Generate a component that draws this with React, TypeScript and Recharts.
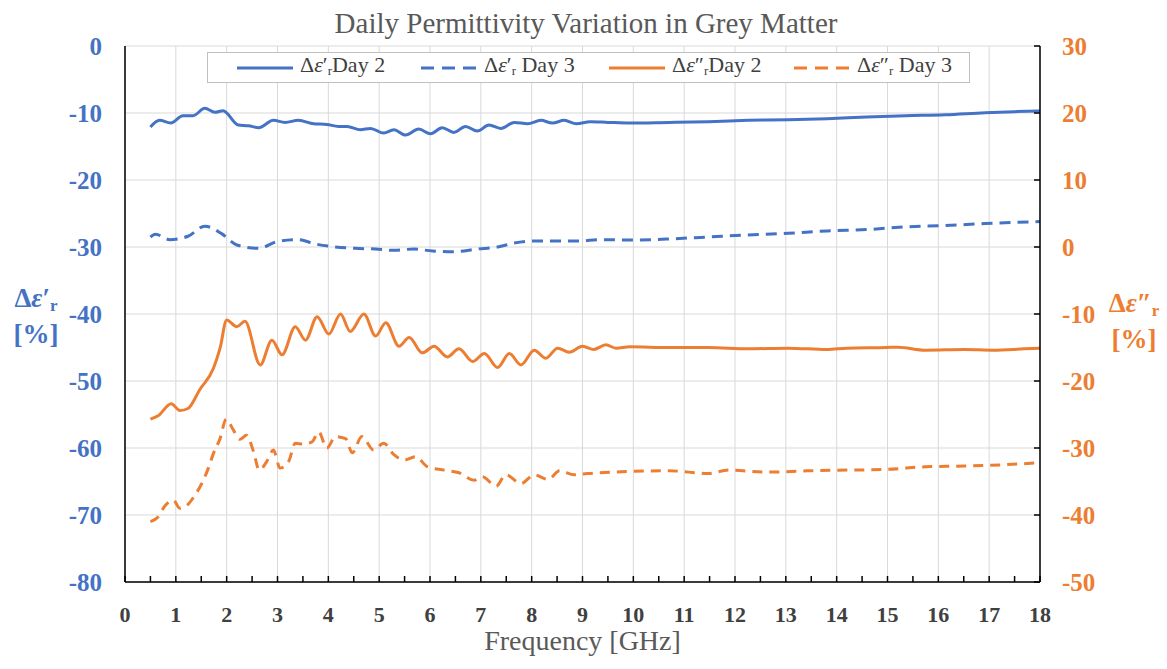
import { LineChart, Line, XAxis, YAxis, CartesianGrid, Legend, Label } from 'recharts'

const BLUE = '#4472C4'
const ORANGE = '#ED7D31'
const TEXT_DARK = '#404040'
const TEXT_GREY = '#595959'
const SERIF = "'Liberation Serif', Tinos, 'Times New Roman', 'DejaVu Serif', 'Noto Serif', serif"

// [frequency GHz, change %]
const EPS_REAL_DAY2: [number, number][] = [
  [0.5, -12.1], [0.68, -11.1], [0.9, -11.5], [1.14, -10.4], [1.34, -10.4], [1.57, -9.3], [1.77, -9.9],
  [1.93, -9.65], [2.23, -11.8], [2.43, -11.9], [2.63, -12.2], [2.92, -11.1], [3.15, -11.4], [3.41, -11.1],
  [3.71, -11.6], [3.97, -11.7], [4.2, -12.0], [4.37, -12.0], [4.63, -12.5], [4.83, -12.3], [5.09, -13.0],
  [5.29, -12.5], [5.52, -13.3], [5.78, -12.4], [6.01, -13.1], [6.24, -12.2], [6.47, -12.9], [6.7, -12.0],
  [6.93, -12.7], [7.16, -11.8], [7.39, -12.3], [7.66, -11.4], [7.92, -11.6], [8.18, -11.1], [8.41, -11.5],
  [8.64, -11.1], [8.88, -11.6], [9.15, -11.3], [9.5, -11.4], [9.93, -11.5], [10.7, -11.4], [11.48, -11.3],
  [12.26, -11.1], [13.04, -11.0], [13.81, -10.85], [14.59, -10.6], [15.36, -10.4], [16.14, -10.25],
  [16.92, -9.95], [17.5, -9.8], [18.0, -9.7],
]

const EPS_REAL_DAY3: [number, number][] = [
  [0.5, -28.5], [0.6, -28.1], [0.88, -28.9], [1.24, -28.4], [1.57, -26.9], [1.9, -28.0], [2.2, -29.7],
  [2.63, -30.2], [2.99, -29.2], [3.38, -28.9], [3.78, -29.6], [4.14, -30.0], [4.53, -30.2], [4.93, -30.3],
  [5.29, -30.5], [5.68, -30.3], [6.05, -30.6], [6.47, -30.7], [6.93, -30.3], [7.33, -30.0], [7.66, -29.4],
  [8.05, -29.1], [8.51, -29.1], [8.97, -29.1], [9.3, -28.9], [9.93, -28.96], [10.7, -28.8], [11.48, -28.5],
  [12.26, -28.2], [13.04, -27.96], [13.81, -27.6], [14.59, -27.4], [15.36, -27.0], [16.14, -26.8],
  [16.92, -26.5], [18.0, -26.2],
]

const EPS_IMAG_DAY2: [number, number][] = [
  [0.5, -25.7], [0.65, -25.2], [0.91, -23.4], [1.08, -24.4], [1.24, -24.1], [1.47, -21.3], [1.74, -18.1],
  [1.87, -15.1], [2.0, -10.9], [2.2, -11.9], [2.36, -11.1], [2.66, -17.6], [2.89, -13.9], [3.09, -16.1],
  [3.35, -11.9], [3.55, -13.9], [3.78, -10.4], [4.01, -13.0], [4.24, -10.0], [4.43, -12.6], [4.7, -10.0],
  [4.93, -13.3], [5.13, -11.3], [5.39, -14.8], [5.59, -13.5], [5.85, -15.8], [6.08, -14.8], [6.34, -16.4],
  [6.57, -15.2], [6.84, -17.1], [7.07, -15.9], [7.33, -18.0], [7.56, -15.9], [7.79, -17.6], [8.05, -15.4],
  [8.28, -16.6], [8.51, -15.1], [8.74, -15.7], [9.0, -14.8], [9.22, -15.3], [9.46, -14.6], [9.66, -15.1],
  [9.93, -14.9], [10.7, -15.0], [11.48, -15.0], [12.26, -15.2], [13.04, -15.1], [13.81, -15.3],
  [14.2, -15.1], [14.98, -15.0], [15.2, -14.95], [15.75, -15.4], [16.52, -15.3], [17.07, -15.4],
  [17.69, -15.2], [18.0, -15.1],
]

const EPS_IMAG_DAY3: [number, number][] = [
  [0.5, -41.0], [0.65, -40.3], [0.78, -38.7], [0.95, -37.8], [1.08, -39.0], [1.24, -38.4], [1.38, -37.0],
  [1.51, -35.3], [1.64, -33.0], [1.74, -30.8], [1.87, -28.6], [1.99, -25.7], [2.13, -27.3], [2.26, -28.7],
  [2.39, -28.1], [2.53, -30.6], [2.64, -33.3], [2.79, -32.0], [2.92, -30.3], [3.05, -33.0], [3.22, -32.0],
  [3.35, -29.3], [3.51, -29.4], [3.68, -29.1], [3.81, -27.6], [3.97, -30.0], [4.14, -28.3], [4.34, -28.6],
  [4.47, -30.7], [4.66, -28.3], [4.89, -30.3], [5.09, -29.3], [5.29, -31.0], [5.49, -31.8], [5.72, -31.3],
  [5.95, -32.8], [6.28, -33.3], [6.57, -33.7], [6.87, -34.8], [7.03, -34.3], [7.3, -35.7], [7.49, -34.0],
  [7.79, -35.3], [8.05, -34.0], [8.32, -34.7], [8.55, -33.4], [8.84, -34.0], [9.1, -33.8], [9.34, -33.7],
  [9.93, -33.5], [10.7, -33.4], [11.48, -33.8], [11.87, -33.3], [12.65, -33.6], [13.42, -33.4],
  [14.2, -33.3], [14.98, -33.2], [15.75, -32.8], [16.52, -32.7], [17.3, -32.5], [18.0, -32.2],
]

const X_MAJOR = [0, 1, 2, 3, 4, 5, 6, 7, 8, 9, 10, 11, 12, 13, 14, 15, 16, 17, 18]
const X_TICKS = Array.from({ length: 37 }, (_, i) => i / 2)
const LEFT_TICKS = [-80, -70, -60, -50, -40, -30, -20, -10, 0]
const RIGHT_TICKS = [-50, -40, -30, -20, -10, 0, 10, 20, 30]

const rows = (pts: [number, number][]) => pts.map(([f, v]) => ({ f, v }))

const LEGEND_ITEMS = [
  { color: BLUE, dash: undefined, prime: '′', sep: '', day: 'Day 2', left: 29 },
  { color: BLUE, dash: '13 8', prime: '′', sep: ' ', day: 'Day 3', left: 213 },
  { color: ORANGE, dash: undefined, prime: '″', sep: '', day: 'Day 2', left: 401 },
  { color: ORANGE, dash: '13 8', prime: '″', sep: ' ', day: 'Day 3', left: 586 },
]

const LegendBox = () => (
  <div style={{ position: 'relative', width: 763, height: 31, border: '1px solid #bfbfbf', background: '#fff', boxSizing: 'border-box' }}>
    {LEGEND_ITEMS.map((it, i) => (
      <div key={i} style={{ position: 'absolute', left: it.left, top: 0, height: 29, display: 'flex', alignItems: 'center', gap: 7 }}>
        <svg width={56} height={6}>
          <line x1={0} x2={56} y1={3} y2={3} stroke={it.color} strokeWidth={3} strokeDasharray={it.dash} />
        </svg>
        <span style={{ fontFamily: SERIF, fontSize: 22, color: TEXT_DARK, whiteSpace: 'nowrap', lineHeight: '22px' }}>
          Δ<i>ε</i>{it.prime}<sub style={{ fontSize: 13, verticalAlign: '-3px' }}>r</sub>{it.sep}{it.day}
        </span>
      </div>
    ))}
  </div>
)

const FreqTick = ({ x, y, payload }: any) => {
  const v = payload.value
  return (
    <g>
      <line x1={x} x2={x} y1={y} y2={y - 6} stroke="#000" strokeWidth={1.5} />
      {Number.isInteger(v) && (
        <text x={x} y={y + 40} textAnchor="middle" fill={TEXT_DARK} fontSize={22} fontWeight={700} fontFamily={SERIF}>{v}</text>
      )}
    </g>
  )
}

const RightTick = ({ x, y, payload }: any) => (
  <g>
    <line x1={x - 6} x2={x} y1={y} y2={y} stroke="#000" strokeWidth={1.5} />
    <text x={x + 22} y={y} dy="0.35em" textAnchor="start" fill={ORANGE} fontSize={25} fontWeight={700} fontFamily={SERIF}>{payload.value}</text>
  </g>
)

const axisLabelStyle = { position: 'absolute' as const, fontFamily: SERIF, fontSize: 27, fontWeight: 700, lineHeight: '28px', textAlign: 'center' as const }

export default function App() {
  return (
    <div style={{ position: 'absolute', left: 0, top: 0, width: 1167, height: 669, background: '#fff', fontFamily: SERIF }}>
      <div style={{ position: 'absolute', left: 0, width: 1172, top: 9, textAlign: 'center', fontFamily: SERIF, fontSize: 29, lineHeight: '29px', color: TEXT_GREY }}>
        Daily Permittivity Variation in Grey Matter
      </div>

      <div style={{ ...axisLabelStyle, left: 8, top: 284, width: 56, color: BLUE }}>
        <div>Δ<i>ε</i>′<sub style={{ fontSize: 17, verticalAlign: '-4px' }}>r</sub></div>
        <div>[%]</div>
      </div>
      <div style={{ ...axisLabelStyle, left: 1104, top: 289, width: 60, color: ORANGE }}>
        <div>Δ<i>ε</i>″<sub style={{ fontSize: 17, verticalAlign: '-4px' }}>r</sub></div>
        <div>[%]</div>
      </div>

      <LineChart width={1167} height={669} margin={{ top: 46, right: 67, bottom: 27, left: 65 }}>
        <CartesianGrid yAxisId="left" stroke="#d9d9d9" strokeWidth={1} verticalValues={X_MAJOR} horizontalValues={LEFT_TICKS} />
        <XAxis
          dataKey="f" type="number" domain={[0, 18]} ticks={X_TICKS} interval={0} height={60}
          tick={<FreqTick />} tickLine={false} tickSize={0} tickMargin={0}
          axisLine={{ stroke: '#000', strokeWidth: 1.5 }}
        >
          <Label
            content={({ viewBox }: any) => (
              <text x={viewBox.x + viewBox.width / 2} y={viewBox.y + 68} textAnchor="middle" fill={TEXT_GREY} fontSize={28} fontFamily={SERIF}>
                Frequency [GHz]
              </text>
            )}
          />
        </XAxis>
        <XAxis xAxisId="top" orientation="top" type="number" domain={[0, 18]} height={0} tick={false} tickLine={false} axisLine={{ stroke: '#000', strokeWidth: 1.5 }} />
        <YAxis
          yAxisId="left" domain={[-80, 0]} ticks={LEFT_TICKS} width={60} interval={0}
          tick={{ fill: BLUE, fontSize: 25, fontWeight: 700, fontFamily: SERIF }}
          tickLine={false} tickSize={0} tickMargin={23}
          axisLine={{ stroke: '#000', strokeWidth: 1.5 }}
        />
        <YAxis
          yAxisId="right" orientation="right" domain={[-50, 30]} ticks={RIGHT_TICKS} width={60} interval={0}
          tick={<RightTick />} tickLine={false} tickSize={0} tickMargin={0}
          axisLine={{ stroke: '#000', strokeWidth: 1.5 }}
        />
        <Legend
          layout="horizontal" verticalAlign="middle" align="center"
          wrapperStyle={{ top: 52, left: 207, width: 763, height: 31 }}
          content={() => <LegendBox />}
        />
        <Line yAxisId="left" data={rows(EPS_REAL_DAY2)} dataKey="v" type="monotone" stroke={BLUE} strokeWidth={3} dot={false} isAnimationActive={false} />
        <Line yAxisId="left" data={rows(EPS_REAL_DAY3)} dataKey="v" type="monotone" stroke={BLUE} strokeWidth={3} strokeDasharray="11 7" dot={false} isAnimationActive={false} />
        <Line yAxisId="right" data={rows(EPS_IMAG_DAY2)} dataKey="v" type="monotone" stroke={ORANGE} strokeWidth={3} dot={false} isAnimationActive={false} />
        <Line yAxisId="right" data={rows(EPS_IMAG_DAY3)} dataKey="v" type="monotone" stroke={ORANGE} strokeWidth={3} strokeDasharray="10 7" dot={false} isAnimationActive={false} />
      </LineChart>
    </div>
  )
}
